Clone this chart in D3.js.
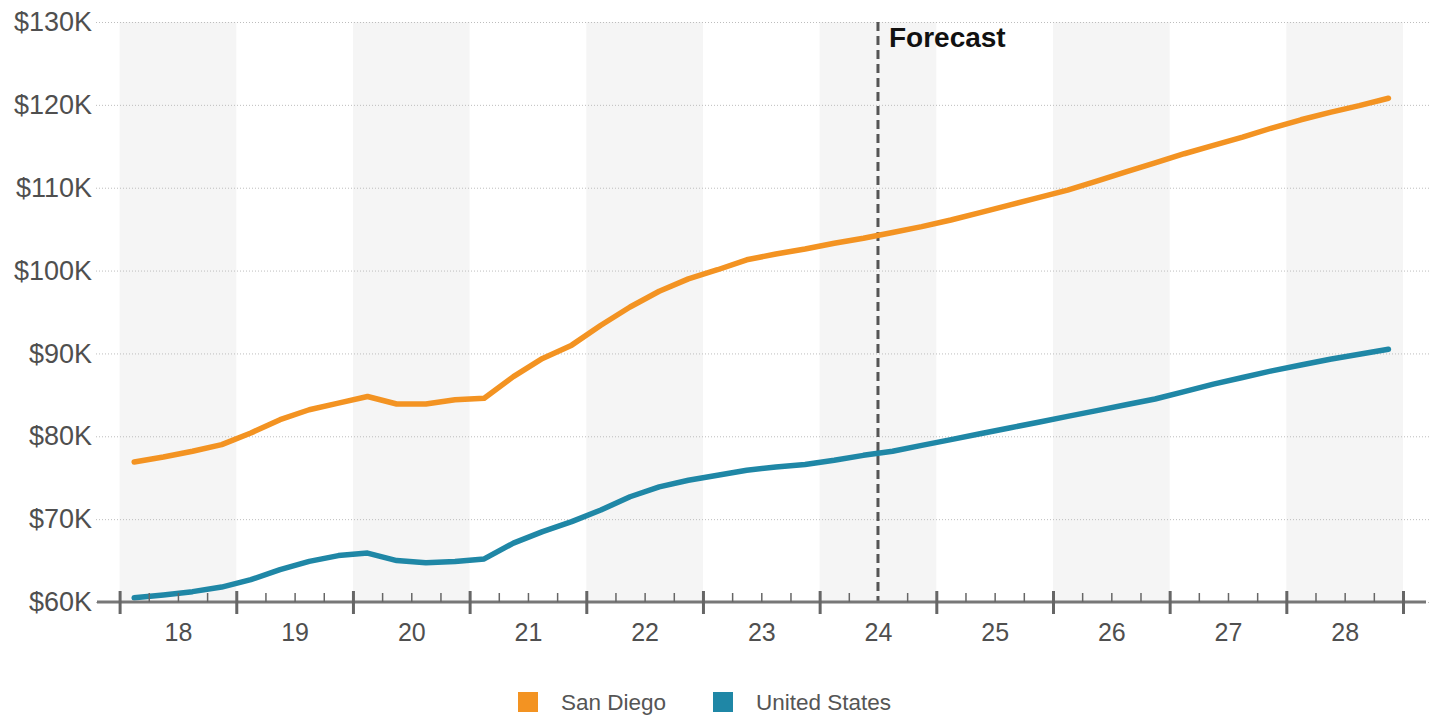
<!DOCTYPE html>
<html>
<head>
<meta charset="utf-8">
<script src="https://cdn.jsdelivr.net/npm/d3@7"></script>
<style>
  html, body { margin: 0; padding: 0; background: #fff; }
  svg { display: block; font-family: "Liberation Sans", Arial, sans-serif; }
</style>
</head>
<body>
<svg id="chart" width="1436" height="715"></svg>
<script>
// Quarterly series, 2018 Q1 through 2028 Q4 (values in $K)
const years = [2018, 2019, 2020, 2021, 2022, 2023, 2024, 2025, 2026, 2027, 2028];
const yearLabels = ["18", "19", "20", "21", "22", "23", "24", "25", "26", "27", "28"];
const sanDiego = [
  76.9, 77.5, 78.2, 79.0,
  80.4, 82.0, 83.2, 84.0,
  84.8, 83.9, 83.9, 84.4,
  84.6, 87.2, 89.4, 91.0,
  93.4, 95.6, 97.5, 99.0,
  100.1, 101.3, 102.0, 102.6,
  103.3, 103.9, 104.6, 105.3,
  106.1, 107.0, 107.9, 108.8,
  109.7, 110.8, 111.9, 113.0,
  114.1, 115.1, 116.1, 117.2,
  118.2, 119.1, 119.9, 120.8
];
const unitedStates = [
  60.5, 60.85, 61.25, 61.8,
  62.7, 63.9, 64.9, 65.6,
  65.9, 65.0, 64.75, 64.9,
  65.2, 67.1, 68.5, 69.7,
  71.1, 72.7, 73.9, 74.7,
  75.3, 75.9, 76.3, 76.6,
  77.1, 77.7, 78.2, 78.9,
  79.6, 80.3, 81.0, 81.7,
  82.4, 83.1, 83.8, 84.5,
  85.4, 86.3, 87.1, 87.9,
  88.6, 89.3, 89.9, 90.5
];
const yTicks = [60, 70, 80, 90, 100, 110, 120, 130];
const forecastStart = 2024.5;
const seriesNames = ["San Diego", "United States"];
const seriesColors = ["#f39322", "#1f87a6"];

const svg = d3.select("#chart");
const font = '"Liberation Sans", Arial, sans-serif';

const x = d3.scaleLinear().domain([2018, 2029]).range([119.6, 1403]);
const y = d3.scaleLinear().domain([60, 130]).range([602, 22]);

// alternating year shading
svg.append("g").selectAll("rect")
  .data(years.filter((d, i) => i % 2 === 0))
  .join("rect")
  .attr("x", d => x(d))
  .attr("width", d => x(d + 1) - x(d))
  .attr("y", y(130))
  .attr("height", y(60) - y(130))
  .attr("fill", "#f5f5f5");

// horizontal gridlines + value labels
const yAxis = d3.axisLeft(y)
  .tickValues(yTicks)
  .tickSize(-(1430 - 96))
  .tickPadding(4)
  .tickFormat(d => `$${d}K`);
const gy = svg.append("g").attr("transform", "translate(96,0)").call(yAxis);
gy.select(".domain").remove();
gy.selectAll(".tick line")
  .attr("stroke", "#bdbdbd")
  .attr("stroke-width", 1)
  .attr("stroke-dasharray", "1,2");
gy.selectAll(".tick text")
  .attr("fill", "#4f4f4f")
  .style("font-family", font)
  .style("font-size", "27px");

// forecast marker
svg.append("line")
  .attr("x1", x(forecastStart)).attr("x2", x(forecastStart))
  .attr("y1", y(130)).attr("y2", y(60))
  .attr("stroke", "#555")
  .attr("stroke-width", 3)
  .attr("stroke-dasharray", "9,5");
svg.append("text")
  .attr("x", x(forecastStart) + 11)
  .attr("y", 47)
  .attr("fill", "#111")
  .style("font-family", font)
  .style("font-size", "28px")
  .style("font-weight", "bold")
  .text("Forecast");

// series lines
const quarterX = i => x(years[0] + (i + 0.5) / 4);
const line = d3.line()
  .x((d, i) => quarterX(i))
  .y(d => y(d));
[sanDiego, unitedStates].forEach((values, k) => {
  svg.append("path")
    .datum(values)
    .attr("d", line)
    .attr("fill", "none")
    .attr("stroke", seriesColors[k])
    .attr("stroke-width", 5.5)
    .attr("stroke-linejoin", "round")
    .attr("stroke-linecap", "round");
});

// x axis: baseline, quarter ticks, year ticks, labels
svg.append("line")
  .attr("x1", 97).attr("x2", 1426)
  .attr("y1", y(60)).attr("y2", y(60))
  .attr("stroke", "#777")
  .attr("stroke-width", 3);

const quarterBounds = d3.range(years.length * 4 + 1)
  .map(i => years[0] + i / 4)
  .filter(v => Math.abs(v - Math.round(v)) > 1e-6 && Math.abs(v - forecastStart) > 1e-6);
const gMinor = svg.append("g").attr("transform", `translate(0,${y(60) - 9})`)
  .call(d3.axisBottom(x).tickValues(quarterBounds).tickSize(9).tickFormat(""));
gMinor.select(".domain").remove();
gMinor.selectAll(".tick line").attr("stroke", "#666").attr("stroke-width", 1.5);

const yearBounds = years.concat([years[years.length - 1] + 1]);
const gMajor = svg.append("g").attr("transform", `translate(0,${y(60) - 11})`)
  .call(d3.axisBottom(x).tickValues(yearBounds).tickSize(23).tickFormat(""));
gMajor.select(".domain").remove();
gMajor.selectAll(".tick line").attr("stroke", "#666").attr("stroke-width", 3);

const gLabels = svg.append("g").attr("transform", `translate(0,${y(60)})`)
  .call(d3.axisBottom(x)
    .tickValues(years.map(d => d + 0.5))
    .tickSize(0)
    .tickPadding(21)
    .tickFormat((d, i) => yearLabels[i]));
gLabels.select(".domain").remove();
gLabels.selectAll(".tick text")
  .attr("fill", "#4f4f4f")
  .style("font-family", font)
  .style("font-size", "25px");

// legend
const legendX = [518, 713];
const legend = svg.append("g");
seriesNames.forEach((name, k) => {
  legend.append("rect")
    .attr("x", legendX[k]).attr("y", 692)
    .attr("width", 20).attr("height", 20)
    .attr("fill", seriesColors[k]);
  legend.append("text")
    .attr("x", legendX[k] + 43)
    .attr("y", 710)
    .attr("fill", "#555")
    .style("font-family", font)
    .style("font-size", "22.5px")
    .text(name);
});
</script>
</body>
</html>
